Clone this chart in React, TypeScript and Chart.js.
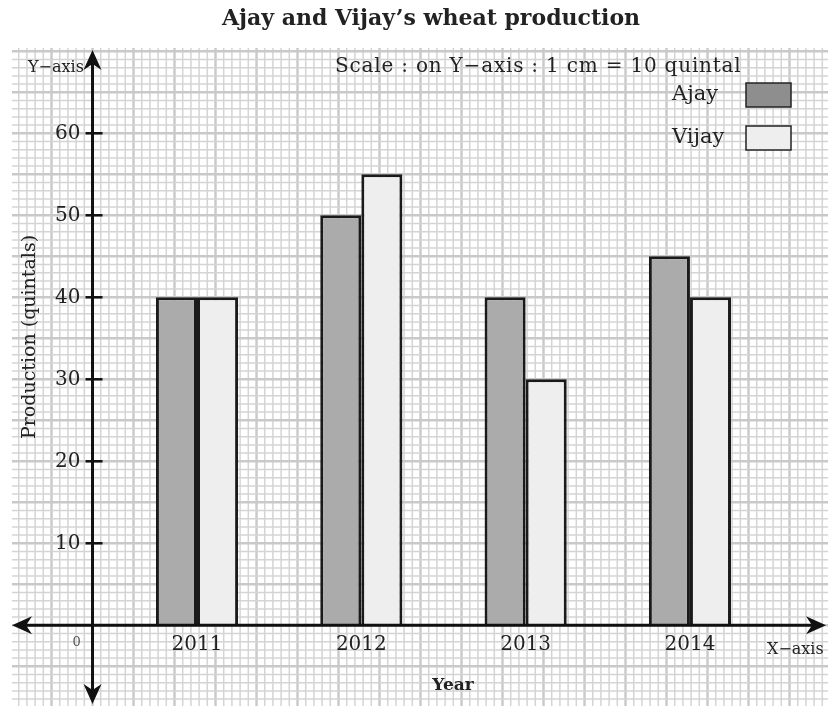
import React, { useEffect, useRef } from "react";
import { Chart, registerables } from "chart.js";

Chart.register(...registerables);

const years = [2011, 2012, 2013, 2014];
const ajay = [40, 50, 40, 45];
const vijay = [40, 55, 30, 40];
const yTicks = [10, 20, 30, 40, 50, 60];
const titleText = "Ajay and Vijay\u2019s wheat production";
const scaleText = "Scale : on Y\u2212axis : 1 cm = 10 quintal";

const X_MIN = 2009.874;
const X_MAX = 2014.828;
const Y_MIN = -9.6;
const Y_MAX = 70.4;
const AXIS_X = 2010.364; // position of the vertical axis on the x scale

const SERIF = '"DejaVu Serif", "Liberation Serif", serif';
const TEXT = "#222";

function arrow(ctx: CanvasRenderingContext2D, x: number, y: number, dir: string) {
  const L = 20, W = 9, N = 6;
  ctx.save();
  ctx.translate(x, y);
  const ang = dir === "up" ? -Math.PI / 2 : dir === "down" ? Math.PI / 2 : dir === "left" ? Math.PI : 0;
  ctx.rotate(ang);
  ctx.beginPath();
  ctx.moveTo(0, 0);
  ctx.lineTo(-L, -W);
  ctx.lineTo(-L + N, 0);
  ctx.lineTo(-L, W);
  ctx.closePath();
  ctx.fillStyle = "#111";
  ctx.fill();
  ctx.restore();
}

const graphPlugin = {
  id: "graphPaper",
  beforeDraw(chart: any) {
    const ctx: CanvasRenderingContext2D = chart.ctx;
    const xs = chart.scales.x;
    const ys = chart.scales.y;
    ctx.save();
    ctx.fillStyle = "#fff";
    ctx.fillRect(0, 0, chart.width, chart.height);
    const gx0 = 12, gy0 = 48, gx1 = chart.width, gy1 = chart.height;
    ctx.beginPath();
    ctx.rect(gx0, gy0, gx1 - gx0, gy1 - gy0);
    ctx.clip();
    const step = ys.getPixelForValue(0) - ys.getPixelForValue(1);
    const ax = xs.getPixelForValue(AXIS_X);
    const ay = ys.getPixelForValue(0);
    const k0 = Math.floor((gx0 - ax) / step) - 1;
    const k1 = Math.ceil((gx1 - ax) / step) + 1;
    for (let k = k0; k <= k1; k++) {
      const px = ax + k * step;
      const major = k % 5 === 0;
      ctx.strokeStyle = major ? "#c9c9c9" : "#d4d4d4";
      ctx.lineWidth = major ? 2.4 : 1.5;
      ctx.beginPath();
      ctx.moveTo(px, gy0);
      ctx.lineTo(px, gy1);
      ctx.stroke();
    }
    const j0 = Math.floor((gy0 - ay) / step) - 1;
    const j1 = Math.ceil((gy1 - ay) / step) + 1;
    for (let j = j0; j <= j1; j++) {
      const py = ay + j * step;
      const major = j % 5 === 0;
      ctx.strokeStyle = major ? "#c9c9c9" : "#d4d4d4";
      ctx.lineWidth = major ? 2.4 : 1.5;
      ctx.beginPath();
      ctx.moveTo(gx0, py);
      ctx.lineTo(gx1, py);
      ctx.stroke();
    }
    ctx.restore();
  },
  afterDatasetsDraw(chart: any) {
    const ctx: CanvasRenderingContext2D = chart.ctx;
    const xs = chart.scales.x;
    const ys = chart.scales.y;
    const ax = xs.getPixelForValue(AXIS_X);
    const ay = ys.getPixelForValue(0);
    ctx.save();
    ctx.strokeStyle = "#111";
    ctx.lineWidth = 3;
    ctx.beginPath();
    ctx.moveTo(ax, 62);
    ctx.lineTo(ax, 692);
    ctx.stroke();
    ctx.beginPath();
    ctx.moveTo(24, ay);
    ctx.lineTo(814, ay);
    ctx.stroke();
    arrow(ctx, ax, 50, "up");
    arrow(ctx, ax, 704, "down");
    arrow(ctx, 12, ay, "left");
    arrow(ctx, 826, ay, "right");
    ctx.lineWidth = 2.5;
    for (const v of yTicks) {
      const py = ys.getPixelForValue(v);
      ctx.beginPath();
      ctx.moveTo(ax - 7, py);
      ctx.lineTo(ax + 10, py);
      ctx.stroke();
    }
    ctx.restore();
  },
  afterDraw(chart: any) {
    const ctx: CanvasRenderingContext2D = chart.ctx;
    const xs = chart.scales.x;
    const ys = chart.scales.y;
    const ax = xs.getPixelForValue(AXIS_X);
    const ay = ys.getPixelForValue(0);
    ctx.save();
    ctx.fillStyle = TEXT;
    ctx.textBaseline = "middle";
    ctx.textAlign = "center";
    ctx.font = `bold 22px ${SERIF}`;
    ctx.fillText(titleText, 431, 19);
    ctx.textAlign = "left";
    ctx.font = `20px ${SERIF}`;
    (ctx as any).letterSpacing = "0.8px";
    ctx.fillText(scaleText, 335, 67);
    (ctx as any).letterSpacing = "0px";
    ctx.font = `16px ${SERIF}`;
    ctx.fillText("Y\u2212axis", 28, 68);
    ctx.fillText("X\u2212axis", 767, 650);
    ctx.fillStyle = "#555";
    ctx.font = `13px ${SERIF}`;
    ctx.textAlign = "center";
    ctx.fillText("0", ax - 16, 643);
    ctx.fillStyle = TEXT;
    ctx.textAlign = "right";
    ctx.font = `20px ${SERIF}`;
    for (const v of yTicks) {
      ctx.fillText(String(v), ax - 12, ys.getPixelForValue(v) + 1);
    }
    ctx.textAlign = "center";
    for (const yr of years) {
      ctx.fillText(String(yr), xs.getPixelForValue(yr), ay + 20);
    }
    ctx.font = `bold 17px ${SERIF}`;
    ctx.fillText("Year", 453, 686);
    ctx.save();
    ctx.translate(30, 337);
    ctx.rotate(-Math.PI / 2);
    ctx.font = `19px ${SERIF}`;
    ctx.fillText("Production (quintals)", 0, 0);
    ctx.restore();
    const ds = chart.data.datasets;
    const legendRows = [
      { label: ds[0].label, fill: "#8e8e8e", y: 95 },
      { label: ds[1].label, fill: "#eeeeee", y: 138 },
    ];
    ctx.textAlign = "left";
    ctx.font = `21px ${SERIF}`;
    for (const r of legendRows) {
      ctx.fillStyle = TEXT;
      ctx.fillText(r.label, 672, r.y);
      ctx.fillStyle = r.fill;
      ctx.fillRect(746, r.y - 12, 45, 24);
      ctx.strokeStyle = "#222";
      ctx.lineWidth = 1.5;
      ctx.strokeRect(746, r.y - 12, 45, 24);
    }
    ctx.restore();
  },
};

export default function App() {
  const ref = useRef<HTMLCanvasElement | null>(null);
  useEffect(() => {
    if (!ref.current) return;
    const chart = new Chart(ref.current, {
      type: "bar",
      data: {
        datasets: [
          {
            label: "Ajay",
            data: years.map((yr, i) => ({ x: yr, y: ajay[i] })) as any,
            backgroundColor: "#ababab",
            borderColor: "#1a1a1a",
            borderWidth: 3,
            borderSkipped: "start",
          },
          {
            label: "Vijay",
            data: years.map((yr, i) => ({ x: yr, y: vijay[i] })) as any,
            backgroundColor: "#eeeeee",
            borderColor: "#1a1a1a",
            borderWidth: 3,
            borderSkipped: "start",
          },
        ],
      },
      options: {
        responsive: false,
        animation: false,
        devicePixelRatio: 1,
        categoryPercentage: 0.5,
        barPercentage: 1,
        layout: { padding: { left: 12, top: 48, right: 2, bottom: 2 } },
        plugins: {
          legend: { display: false },
          title: { display: false },
          tooltip: { enabled: false },
        },
        scales: {
          x: {
            type: "linear",
            min: X_MIN,
            max: X_MAX,
            display: false,
            offset: false,
            ticks: { stepSize: 1, includeBounds: false },
          },
          y: { type: "linear", min: Y_MIN, max: Y_MAX, display: false },
        },
      } as any,
      plugins: [graphPlugin],
    });
    return () => chart.destroy();
  }, []);
  return (
    <div style={{ position: "absolute", left: 0, top: 0, width: 828, height: 706 }}>
      <canvas ref={ref} width={828} height={706} style={{ width: 828, height: 706 }} />
    </div>
  );
}
